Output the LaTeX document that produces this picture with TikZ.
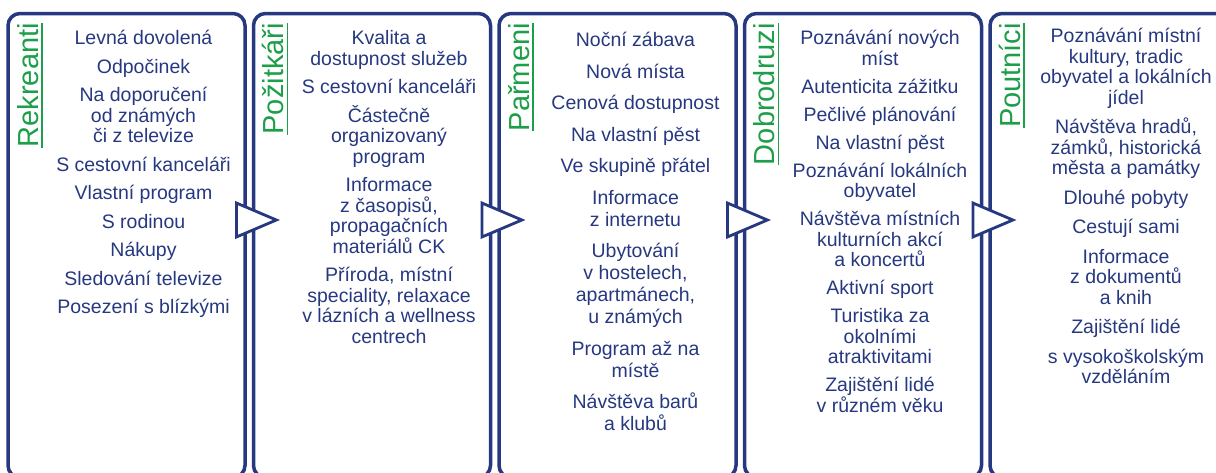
\documentclass[tikz,border=0pt]{standalone}
\usepackage{fontspec}
\setmainfont{Liberation Sans}
\usetikzlibrary{positioning,shapes.geometric}
\definecolor{navy}{RGB}{38,56,128}
\definecolor{leaf}{RGB}{29,158,73}

\begin{document}
\begin{tikzpicture}[
            x = 1pt, y = -1pt, % pixel units, y going down
            node distance = 5pt, % gap between the columns
            panel/.style = {draw=navy, line width=3.5pt, rounded corners=12pt,
                minimum width=237pt, minimum height=464pt},
            title/.style = {rotate=90, anchor=base east, inner sep=0pt, text=leaf,
                font=\fontsize{29}{29}\selectfont},
            items/.style = {align=center, anchor=north, inner sep=0pt, text=navy,
                font=\fontsize{19.5}{20.5}\selectfont},
            wedge/.style = {isosceles triangle, isosceles triangle stretches,
                draw=navy, fill=white, line width=2.8pt, inner sep=0pt,
                minimum width=34pt, minimum height=40pt, anchor=west}
        ]

	\useasboundingbox (0,0) rectangle (1216,472);
	\clip (0,0) rectangle (1216,472);

	\node[panel] (rek) at (126.5,245.5) {};
	\node[panel] (poz) [right=of rek] {};
	\node[panel] (par) [right=of poz] {};
	\node[panel] (dob) [right=of par] {};
	\node[panel] (pou) [right=of dob] {};

	% column titles, read upwards
	\node[title] (t-rek) at ([xshift=31.75pt,yshift=-11.25pt]rek.north west) {Rekreanti};
	\node[title] (t-poz) at ([xshift=31.75pt,yshift=-11.25pt]poz.north west) {Požitkáři};
	\node[title] (t-par) at ([xshift=31.75pt,yshift=-11.25pt]par.north west) {Pařmeni};
	\node[title] (t-dob) at ([xshift=31.75pt,yshift=-11.25pt]dob.north west) {Dobrodruzi};
	\node[title] (t-pou) at ([xshift=31.75pt,yshift=-11.25pt]pou.north west) {Poutníci};
	\foreach \c in {rek,poz,par,dob,pou}
		\draw[leaf, line width=1.7pt] ([xshift=4pt]t-\c.base west) -- ([xshift=4pt]t-\c.base east);

	\node[items] (l-rek) at ([xshift=17pt,yshift=-18pt]rek.north) {\rule{0pt}{15pt}Levná dovolená\\[8pt]
		Odpočinek\\[8pt] Na doporučení\\ od známých\\ či z televize\\[8pt]
		S cestovní kanceláři\\[8pt] Vlastní program\\[8pt] S rodinou\\[8pt]
		Nákupy\\[8pt] Sledování televize\\[8pt] Posezení s blízkými};
	\node[items] (l-poz) at ([xshift=17pt,yshift=-18pt]poz.north) {\rule{0pt}{15pt}Kvalita a\\
		dostupnost služeb\\[8pt] S cestovní kanceláři\\[8pt] Částečně\\ organizovaný\\ program\\[8pt]
		Informace\\ z časopisů,\\ propagačních\\ materiálů CK\\[8pt]
		Příroda, místní\\ speciality, relaxace\\ v lázních a wellness\\ centrech};
	\node[items, font=\fontsize{19.5}{22}\selectfont] (l-par) at ([xshift=18pt,yshift=-20pt]par.north)
		{\rule{0pt}{15pt}Noční zábava\\[9.5pt] Nová místa\\[9.5pt] Cenová dostupnost\\[9.5pt]
		Na vlastní pěst\\[9.5pt] Ve skupině přátel\\[9.5pt] Informace\\ z internetu\\[9.5pt]
		Ubytování\\ v hostelech,\\ apartmánech,\\ u známých\\[9.5pt]
		Program až na\\ místě\\[9.5pt] Návštěva barů\\ a klubů};
	\node[items] (l-dob) at ([xshift=17pt,yshift=-18pt]dob.north) {\rule{0pt}{15pt}Poznávání nových\\
		míst\\[7.5pt] Autenticita zážitku\\[7.5pt] Pečlivé plánování\\[7.5pt] Na vlastní pěst\\[7.5pt]
		Poznávání lokálních\\ obyvatel\\[7.5pt] Návštěva místních\\ kulturních akcí\\ a koncertů\\[7.5pt]
		Aktivní sport\\[7.5pt] Turistika za\\ okolními\\ atraktivitami\\[7.5pt]
		Zajištění lidé\\ v různém věku};
	\node[items] (l-pou) at ([xshift=17.5pt,yshift=-16pt]pou.north) {\rule{0pt}{15pt}Poznávání místní\\
		kultury, tradic\\ obyvatel a lokálních\\ jídel\\[9pt]
		Návštěva hradů,\\ zámků, historická\\ města a památky\\[9pt]
		Dlouhé pobyty\\[9pt] Cestují sami\\[9pt] Informace\\ z dokumentů\\ a knih\\[9pt]
		Zajištění lidé\\[9pt] s vysokoškolským\\ vzděláním};

	% arrows from one column to the next
	\foreach \c in {rek,poz,par,dob}
		\node[wedge] (w-\c) at ([xshift=-11.75pt,yshift=25.5pt]\c.east) {};

\end{tikzpicture}
\end{document}
